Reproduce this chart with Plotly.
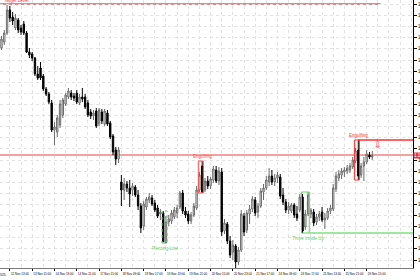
import plotly.graph_objects as go

# ---- price data (hourly bars) ----
opens = [1.16708,1.16762,1.16843,1.17050,1.16987,1.16888,1.16960,1.16888,1.16924,1.16843,
         1.16672,1.16654,1.16618,1.16474,1.16528,1.16456,1.16339,1.16294,1.16213,1.15970,
         1.15952,1.16015,1.16105,1.16204,1.16267,1.16303,1.16276,1.16303,1.16213,1.16267,
         1.16267,1.16213,1.16132,1.16096,1.16141,1.16024,1.16132,1.16024,1.16123,1.16033,
         1.15916,1.15790,1.15709,1.15502,1.15430,1.15484,1.15448,1.15430,1.15457,1.15385,
         1.15286,1.15106,1.15277,1.15340,1.15358,1.15313,1.15268,1.15214,1.15223,1.14953,
         1.15142,1.15151,1.15187,1.15223,1.15277,1.15403,1.15241,1.15214,1.15151,1.15205,
         1.15268,1.15430,1.15646,1.15430,1.15511,1.15466,1.15520,1.15610,1.15511,1.15592,
         1.15061,1.15124,1.14971,1.14872,1.14926,1.14782,1.14890,1.15196,1.15070,1.15214,
         1.15259,1.15340,1.15232,1.15286,1.15412,1.15448,1.15502,1.15556,1.15502,1.15538,
         1.15547,1.15385,1.15322,1.15250,1.15241,1.15295,1.15214,1.15250,1.15367,1.15097,
         1.15214,1.15214,1.15232,1.15142,1.15187,1.15232,1.15160,1.15178,1.15241,1.15259,
         1.15439,1.15538,1.15565,1.15592,1.15601,1.15610,1.15637,1.15691,1.15790,1.15565,
         1.15646,1.15682,1.15745,1.15727]
highs = [1.16816,1.16870,1.17095,1.17086,1.17032,1.17014,1.16978,1.16915,1.16951,1.16861,
         1.16708,1.16672,1.16627,1.16546,1.16582,1.16474,1.16357,1.16312,1.16240,1.16042,
         1.16105,1.16240,1.16258,1.16303,1.16348,1.16330,1.16303,1.16330,1.16294,1.16348,
         1.16294,1.16240,1.16159,1.16150,1.16168,1.16168,1.16159,1.16159,1.16150,1.16051,
         1.15934,1.15817,1.15817,1.15565,1.15538,1.15511,1.15520,1.15493,1.15475,1.15430,
         1.15313,1.15331,1.15367,1.15403,1.15385,1.15340,1.15295,1.15259,1.15241,1.15196,
         1.15205,1.15250,1.15277,1.15295,1.15421,1.15430,1.15277,1.15241,1.15232,1.15313,
         1.15466,1.15592,1.15691,1.15538,1.15556,1.15547,1.15646,1.15646,1.15637,1.15628,
         1.15169,1.15142,1.15016,1.14980,1.14944,1.14917,1.15250,1.15223,1.15250,1.15295,
         1.15376,1.15367,1.15313,1.15448,1.15484,1.15556,1.15628,1.15610,1.15574,1.15592,
         1.15574,1.15448,1.15349,1.15322,1.15313,1.15313,1.15286,1.15394,1.15394,1.15250,
         1.15412,1.15268,1.15259,1.15214,1.15241,1.15277,1.15223,1.15268,1.15295,1.15484,
         1.15592,1.15610,1.15628,1.15637,1.15655,1.15673,1.15727,1.15808,1.15880,1.15673,
         1.15727,1.15790,1.15772,1.15781]
lows = [1.16690,1.16735,1.16825,1.16942,1.16915,1.16870,1.16843,1.16825,1.16825,1.16663,
        1.16618,1.16591,1.16456,1.16420,1.16420,1.16321,1.16276,1.16204,1.15952,1.15835,
        1.15907,1.15988,1.16078,1.16186,1.16249,1.16240,1.16231,1.16204,1.16195,1.16222,
        1.16159,1.16087,1.16069,1.16060,1.15988,1.16006,1.16024,1.16006,1.16006,1.15889,
        1.15745,1.15655,1.15673,1.15286,1.15340,1.15412,1.15277,1.15376,1.15367,1.15250,
        1.15043,1.15070,1.15250,1.15313,1.15286,1.15232,1.15178,1.15160,1.14962,1.14953,
        1.15106,1.15124,1.15169,1.15178,1.15259,1.15214,1.15178,1.15124,1.15124,1.15187,
        1.15250,1.15412,1.15403,1.15412,1.15439,1.15439,1.15493,1.15493,1.15475,1.15016,
        1.15034,1.14944,1.14818,1.14800,1.14728,1.14755,1.14872,1.15016,1.15043,1.15124,
        1.15232,1.15196,1.15178,1.15268,1.15340,1.15430,1.15466,1.15475,1.15466,1.15493,
        1.15349,1.15295,1.15223,1.15214,1.15223,1.15178,1.15151,1.15232,1.15043,1.15070,
        1.15196,1.15178,1.15106,1.15115,1.15151,1.15142,1.15079,1.15160,1.15214,1.15241,
        1.15412,1.15511,1.15529,1.15547,1.15574,1.15583,1.15619,1.15673,1.15520,1.15538,
        1.15511,1.15664,1.15709,1.15700]
closes = [1.16789,1.16843,1.17050,1.16978,1.16951,1.16978,1.16870,1.16852,1.16843,1.16672,
          1.16645,1.16618,1.16474,1.16438,1.16438,1.16339,1.16294,1.16222,1.15970,1.15997,
          1.16078,1.16204,1.16240,1.16285,1.16321,1.16267,1.16258,1.16222,1.16267,1.16249,
          1.16177,1.16105,1.16096,1.16123,1.16006,1.16150,1.16051,1.16141,1.16024,1.15907,
          1.15772,1.15709,1.15790,1.15430,1.15484,1.15448,1.15394,1.15466,1.15385,1.15286,
          1.15088,1.15304,1.15349,1.15367,1.15304,1.15250,1.15196,1.15232,1.14962,1.15142,
          1.15169,1.15223,1.15250,1.15268,1.15403,1.15241,1.15205,1.15151,1.15205,1.15286,
          1.15430,1.15565,1.15412,1.15511,1.15466,1.15529,1.15619,1.15511,1.15601,1.15052,
          1.15133,1.14971,1.14845,1.14935,1.14782,1.14890,1.15214,1.15052,1.15223,1.15259,
          1.15349,1.15223,1.15286,1.15421,1.15448,1.15520,1.15556,1.15502,1.15538,1.15565,
          1.15376,1.15322,1.15250,1.15286,1.15295,1.15205,1.15178,1.15367,1.15061,1.15214,
          1.15385,1.15250,1.15133,1.15187,1.15214,1.15160,1.15178,1.15241,1.15268,1.15448,
          1.15556,1.15574,1.15601,1.15610,1.15628,1.15646,1.15700,1.15781,1.15556,1.15646,
          1.15682,1.15754,1.15727,1.15736]
bars = list(range(len(opens)))

# time-axis labels (one every 8 bars)
time_labels = ["12 Nov 13:00", "13 Nov 15:00", "14 Nov 13:00", "14 Nov 21:00", "17 Nov 15:00",
               "18 Nov 09:00", "18 Nov 17:00", "19 Nov 13:00", "19 Nov 21:00", "20 Nov 15:00",
               "20 Nov 23:00", "21 Nov 17:00", "24 Nov 09:00", "24 Nov 17:00", "25 Nov 13:00",
               "25 Nov 21:00", "26 Nov 15:00"]
label_bars = list(range(3, 3 + 8 * len(time_labels), 8))
first_label = "11 Nov 2025"

# levels
target_level = 1.17104
support_level = 1.15745
resist_level = 1.15880
green_level = 1.15043
arrow_price = 1.15835

# candlestick patterns: (name, first bar, last bar, colour, above/below, dash)
patterns = [
    ("Piercing Line", 58, 59, "#5fd35f", "below", "dot"),
    ("Engulfing", 71, 72, "#ff5050", "above", "solid"),
    ("Three Inside Up", 108, 110, "#5fd35f", "below", "solid"),
    ("Engulfing", 127, 128, "#ff3030", "above", "solid"),
]

fig = go.Figure()
fig.add_trace(go.Candlestick(
    x=bars, open=opens, high=highs, low=lows, close=closes,
    increasing=dict(line=dict(color="#6a6a6a", width=1), fillcolor="#ffffff"),
    decreasing=dict(line=dict(color="#000000", width=1), fillcolor="#000000"),
    whiskerwidth=0, showlegend=False, hoverinfo="skip"))

shapes = []
annotations = []
# top target level line
shapes.append(dict(type="line", xref="x", yref="y", x0=-1, x1=136, y0=target_level, y1=target_level,
                   line=dict(color="#ff7b7b", width=2), layer="below"))
annotations.append(dict(xref="paper", yref="y", x=0.004, y=target_level, xanchor="left", yanchor="bottom",
                        text="Target Level", showarrow=False, font=dict(size=4.5, color="#ff3030"), yshift=-1))
# support level across the chart
shapes.append(dict(type="line", xref="paper", yref="y", x0=0, x1=1, y0=support_level, y1=support_level,
                   line=dict(color="#f2a0a0", width=2), layer="below"))
annotations.append(dict(xref="paper", yref="y", x=1, y=support_level, xanchor="left", yanchor="middle",
                        text="1.15745", showarrow=False, bgcolor="#e03a3a", borderpad=0,
                        font=dict(size=4.5, color="#ffffff")))

for name, a, b, col, pos, dash in patterns:
    hi = max(highs[a:b + 1])
    lo = min(lows[a:b + 1])
    shapes.append(dict(type="rect", xref="x", yref="y", x0=a - 0.4, x1=b + 0.4, y0=lo, y1=hi,
                       line=dict(color=col, width=1, dash=dash), fillcolor="rgba(0,0,0,0)"))
    if pos == "above":
        annotations.append(dict(xref="x", yref="y", x=b, y=hi, xanchor="center", yanchor="bottom",
                                text=name, showarrow=False, font=dict(size=4.5, color=col), yshift=0))
    else:
        annotations.append(dict(xref="x", yref="y", x=b, y=lo, xanchor="center", yanchor="top",
                                text=name, showarrow=False, font=dict(size=4.5, color=col), yshift=-1))

# lines started by the last patterns
shapes.append(dict(type="line", xref="x", yref="y", x0=128, x1=150, y0=resist_level, y1=resist_level,
                   line=dict(color="#ff3030", width=1.5)))
shapes.append(dict(type="line", xref="x", yref="y", x0=110.4, x1=150, y0=green_level, y1=green_level,
                   line=dict(color="#7fe07f", width=1.5)))
annotations.append(dict(xref="x", yref="y", x=135, y=arrow_price, text="\u21e9", showarrow=False,
                        font=dict(size=9, color="#ff3030", family="DejaVu Sans")))
annotations.append(dict(xref="paper", yref="paper", x=8 / 413, y=0, xanchor="right", yanchor="top",
                        text=first_label, showarrow=False, yshift=-3,
                        font=dict(size=3, color="#000000", family="Liberation Sans")))

fig.update_layout(
    width=420, height=280, margin=dict(l=0, r=7, t=0, b=12, pad=0, autoexpand=False),
    paper_bgcolor="#ffffff", plot_bgcolor="#ffffff",
    shapes=shapes, annotations=annotations, showlegend=False,
    font=dict(family="Liberation Sans", color="#000000"),
)
fig.update_xaxes(
    range=[-0.538, 147.62], rangeslider=dict(visible=False), automargin=False,
    tickmode="array", tickvals=label_bars, ticktext=time_labels,
    ticks="outside", ticklen=2, tickcolor="#000000",
    tickfont=dict(size=3, color="#000000"), ticklabelshift=10, ticklabelstandoff=0,
    showline=True, linecolor="#7a7a7a", linewidth=1, mirror=True,
    showgrid=True, gridcolor="#e2e2e2", griddash="dot", gridwidth=1,
    minor=dict(tick0=3, dtick=4, showgrid=True, gridcolor="#e2e2e2", griddash="dot", ticks=""),
    zeroline=False,
)
fig.update_yaxes(
    side="right", range=[1.14728, 1.17140], dtick=0.001, tick0=1.15, tickformat=".5f", automargin=False,
    ticks="outside", ticklen=3, tickcolor="#000000", tickfont=dict(size=4.5, color="#000000"),
    showline=True, linecolor="#000000", linewidth=1, mirror=False,
    showgrid=True, gridcolor="#e2e2e2", griddash="dot", gridwidth=1, zeroline=False,
)

fig.write_html("out.html")
